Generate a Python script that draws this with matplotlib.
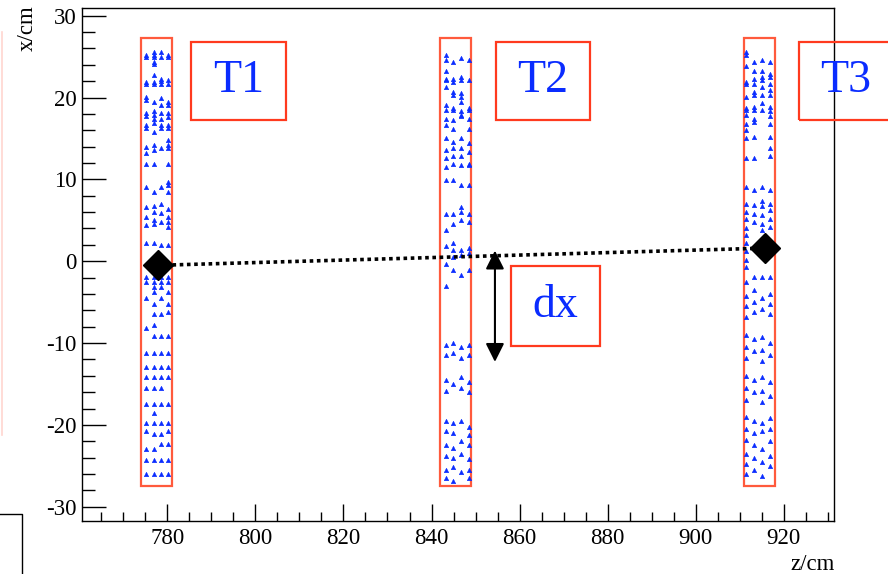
import matplotlib.pyplot as plt
from matplotlib.patches import Rectangle
from matplotlib.lines import Line2D

plt.rcParams["axes.unicode_minus"] = False

# Tracker stations: z position of each strip (cm) and the hit columns inside it
station_names = ["T1", "T2", "T3"]
station_z = [777.5, 845.4, 914.5]
station_halfwidth = 3.5
station_xrange = [-27.45, 27.25]
station_columns = [
    [775.2, 776.9, 778.5, 780.1],
    [843.2, 844.8, 846.7, 848.5],
    [911.5, 913.2, 915.1, 916.8],
]

# Hit x positions (cm), one list per column, per station
t1_hits = [
    [25.2, 24.9, 21.9, 21.6, 20.1, 19.7, 18.1, 17.7, 16.6, 16.3, 14.0, 13.2, 11.9, 9.1, 6.6, 5.4, 4.4,
     2.2, -1.9, -2.5, -4.5, -8.2, -11.2, -12.9, -14.1, -15.5, -17.4, -19.8, -20.7, -22.9, -24.3, -26.0],
    [25.6, 25.2, 24.9, 24.4, 24.1, 22.7, 21.9, 21.6, 19.5, 18.3, 17.9, 17.4, 16.9, 15.8, 14.2, 13.6, 11.9,
     8.5, 6.8, 6.0, 5.0, 4.6, 2.2, -1.9, -2.5, -3.1, -3.7, -5.2, -6.4, -7.8, -9.1, -11.2, -12.9, -14.1,
     -15.5, -17.4, -18.6, -19.8, -21.1, -22.9, -24.3, -26.0],
    [25.6, 24.9, 22.3, 22.0, 21.6, 19.9, 19.1, 18.1, 17.4, 16.6, 16.3, 13.8, 9.1, 7.0, 5.9, 4.8, 2.0,
     -1.9, -2.5, -3.1, -4.5, -6.4, -9.1, -11.2, -12.9, -14.1, -15.5, -17.4, -19.8, -21.1, -22.3, -24.3, -26.0],
    [25.2, 24.9, 22.1, 21.6, 19.5, 19.1, 18.1, 17.6, 16.6, 16.3, 14.8, 14.2, 13.8, 11.9, 9.7, 9.3, 8.5,
     6.4, 5.4, 4.8, 4.2, 2.0, -1.9, -2.5, -3.7, -5.2, -6.2, -9.1, -11.2, -12.9, -14.1, -17.4, -19.8,
     -20.7, -22.3, -24.3, -26.0],
]
t2_hits = [
    [25.2, 24.6, 23.2, 22.3, 22.1, 21.3, 19.1, 18.5, 17.4, 16.6, 15.0, 13.6, 12.6, 11.5, 9.9, 5.8, 3.8,
     1.8, -0.3, -3.0, -10.2, -11.5, -14.5, -15.8, -19.5, -20.8, -22.5, -23.8, -25.5, -26.5],
    [24.4, 22.3, 21.9, 20.7, 20.3, 18.7, 18.5, 17.2, 16.2, 14.6, 13.8, 12.8, 11.9, 9.9, 5.8, 4.6, 2.2,
     1.4, 0.5, -1.1, -10.0, -11.2, -15.0, -19.8, -21.0, -22.8, -24.0, -25.2, -26.8],
    [24.8, 22.5, 22.1, 20.5, 20.1, 19.5, 18.3, 17.9, 17.7, 15.0, 13.8, 12.8, 11.7, 9.3, 6.6, 6.0, 5.0,
     1.4, 0.8, -1.7, -10.5, -11.8, -14.2, -15.5, -19.5, -22.0, -23.5, -25.8],
    [24.6, 22.1, 18.7, 18.5, 17.4, 16.2, 14.4, 13.4, 11.9, 11.7, 9.3, 5.8, 4.8, 1.6, 1.0, -1.1,
     -10.2, -11.5, -14.8, -16.0, -20.2, -21.2, -22.5, -24.2, -25.5, -26.5],
]
t3_hits = [
    [25.6, 25.2, 23.8, 21.9, 21.7, 20.1, 18.7, 18.5, 17.9, 16.8, 16.0, 15.0, 12.6, 9.1, 7.0, 6.0, 5.2,
     4.0, 3.2, 2.2, 1.2, 0.1, -0.7, -2.5, -4.2, -5.5, -6.8, -9.0, -10.5, -11.8, -14.0, -15.5, -17.0,
     -19.0, -20.5, -21.8, -23.5, -24.8, -26.0],
    [24.4, 23.2, 22.3, 21.7, 20.7, 20.3, 18.9, 18.5, 17.4, 17.0, 15.2, 12.6, 8.7, 6.9, 5.8, 4.8, -1.9,
     -3.5, -5.0, -6.2, -9.5, -11.0, -14.5, -16.0, -19.5, -21.0, -22.5, -24.0, -25.5],
    [24.6, 23.2, 22.5, 22.1, 21.3, 20.3, 19.3, 18.5, 9.1, 7.3, 6.7, 5.6, 4.6, 3.8, -1.9, -4.5, -5.8,
     -9.2, -10.8, -12.2, -14.2, -15.8, -17.2, -19.8, -20.8, -23.0, -24.5, -26.2],
    [24.4, 22.9, 22.5, 21.7, 20.9, 20.3, 18.9, 18.3, 17.7, 16.8, 15.2, 13.8, 12.8, 8.7, 7.0, 6.2, 5.2,
     4.2, -1.9, -4.0, -5.2, -6.5, -10.0, -11.5, -14.8, -16.5, -19.2, -20.5, -22.0, -23.8, -25.0],
]
station_hits = [t1_hits, t2_hits, t3_hits]

# Reconstructed track (diamonds at T1 and T3)
track_z = [777.9, 915.7]
track_x = [-0.5, 1.6]

# Label boxes: (z0, z1, x0, x1)
label_boxes = [
    (785.4, 806.9, 17.25, 26.8),
    (854.6, 876.0, 17.25, 26.8),
    (923.4, 944.9, 17.25, 26.8),
]
dx_box = (858.0, 878.2, -10.3, -0.6)
dx_arrow_z = 854.4
dx_arrow_x = [1.3, -12.3]

box_red = "#ff3a1e"
strip_red = "#ff5a3c"
hit_blue = "#0a2cff"
serif = ["Liberation Serif", "DejaVu Serif"]

fig = plt.figure(figsize=(8.88, 5.74), dpi=100)
ax = fig.add_axes([0.0927, 0.0929, 0.8470, 0.8926])
ax.set_xlim(760.7, 931.5)
ax.set_ylim(-31.7, 30.9)

# strips and hits
for z, cols, hits in zip(station_z, station_columns, station_hits):
    ax.add_patch(Rectangle((z - station_halfwidth, station_xrange[0]), 2 * station_halfwidth,
                           station_xrange[1] - station_xrange[0], fill=False,
                           edgecolor=strip_red, lw=1.6, zorder=2))
    for cz, col in zip(cols, hits):
        ax.plot([cz] * len(col), col, ls="none", marker="^", ms=3.2,
                color=hit_blue, mec=hit_blue, mew=0.4, zorder=3)

# track
ax.plot(track_z, track_x, color="black", ls=(0, (1, 1)), lw=2.6, zorder=4)
ax.plot(track_z, track_x, ls="none", marker="D", ms=15, color="black", zorder=5)

# station labels
for name, (z0, z1, x0, x1) in zip(station_names, label_boxes):
    ax.add_patch(Rectangle((z0, x0), z1 - z0, x1 - x0, fill=False, edgecolor=box_red,
                           lw=1.6, clip_on=False, zorder=6))
    ax.text((z0 + z1) / 2, (x0 + x1) / 2, name, color=hit_blue, fontsize=33, family=serif,
            ha="center", va="center", clip_on=False, zorder=6)

# dx annotation
ax.add_patch(Rectangle((dx_box[0], dx_box[2]), dx_box[1] - dx_box[0], dx_box[3] - dx_box[2],
                       fill=False, edgecolor=box_red, lw=1.6, zorder=6))
ax.text((dx_box[0] + dx_box[1]) / 2, (dx_box[2] + dx_box[3]) / 2, "dx", color=hit_blue,
        fontsize=33, family=serif, ha="center", va="center", zorder=6)
ax.annotate("", xy=(dx_arrow_z, dx_arrow_x[0]), xytext=(dx_arrow_z, dx_arrow_x[1]),
            arrowprops=dict(arrowstyle="<|-|>", color="black", lw=1.5, mutation_scale=28,
                            shrinkA=0, shrinkB=0), zorder=6)

# axes styling (ROOT-like)
ax.set_xticks(range(780, 921, 20))
ax.set_xticks(range(765, 931, 5), minor=True)
ax.set_yticks(range(-30, 31, 10))
ax.set_yticks(range(-30, 31, 2), minor=True)
ax.tick_params(which="both", direction="in", top=False, right=False, width=1.0, colors="black")
ax.tick_params(axis="x", which="major", length=12.5, pad=5)
ax.tick_params(axis="x", which="minor", length=6.5)
ax.tick_params(axis="y", which="major", length=17, pad=4)
ax.tick_params(axis="y", which="minor", length=9)
for lab in ax.get_xticklabels() + ax.get_yticklabels():
    lab.set_family(serif)
    lab.set_fontsize(16.5)
for sp in ax.spines.values():
    sp.set_linewidth(1.0)

ax.text(1.0, -0.066, "z/cm", transform=ax.transAxes, ha="right", va="top",
        fontsize=16.5, family=serif)
ax.text(-0.0735, 1.006, "x/cm", transform=ax.transAxes, ha="center", va="top",
        rotation=90, fontsize=16.5, family=serif)

# bits of neighbouring pads visible at the left edge
fig.add_artist(Line2D([0.002, 0.002], [1 - 32 / 574, 1 - 435 / 574], color="#ffd6d0", lw=1.2))
fig.add_artist(Line2D([0.0, 22 / 888, 22 / 888], [1 - 514 / 574, 1 - 514 / 574, 0.0],
                      color="black", lw=1.0))

fig.savefig("out.png", dpi=100)
